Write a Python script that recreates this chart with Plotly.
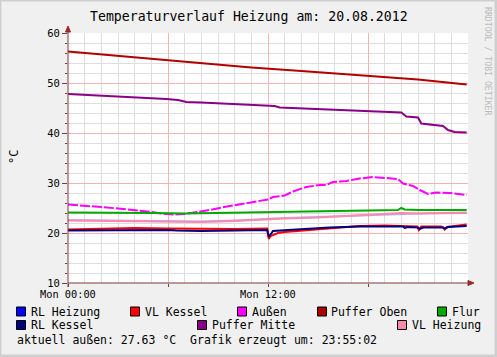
import plotly.graph_objects as go

# ---------------- data (hours since Mon 00:00, °C) ----------------
rl_heizung_h = [0, 3, 6, 8, 10, 11.5, 13, 15, 17.5, 19.8, 20.0, 21, 23.92]
rl_heizung_v = [22.6, 22.5, 22.4, 22.3, 22.5, 22.8, 23.0, 23.2, 23.5, 23.8, 23.9, 23.9, 24.0]

vl_kessel_h = [0, 2, 4, 6, 8, 10, 11.95, 12.05, 12.15, 12.6, 13, 14, 15, 16, 17.5, 19, 20.5, 20.95, 21.05, 21.2, 22.4, 22.5, 22.6, 22.75, 23.92]
vl_kessel_v = [20.7, 20.9, 21.0, 20.9, 20.8, 20.8, 20.9, 18.8, 19.4, 20.0, 20.2, 20.5, 20.8, 21.0, 21.4, 21.5, 21.4, 21.3, 20.6, 21.3, 21.3, 21.1, 20.7, 21.2, 21.7]

aussen_h = [0, 1, 2, 3, 4, 5, 5.6, 6.3, 7.0, 7.6, 8.5, 9.7, 10.7, 11.5, 12.0, 12.3, 13.0, 13.5, 14.3, 15.1, 15.5, 15.9, 16.7, 17.5, 18.3, 19.1, 19.8, 20.1, 20.7, 21.1, 21.6, 22.1, 22.9, 23.92]
aussen_v = [25.7, 25.5, 25.2, 24.9, 24.6, 24.2, 23.9, 23.7, 23.8, 24.1, 24.6, 25.4, 25.9, 26.3, 26.7, 27.2, 27.5, 28.3, 29.2, 29.6, 29.6, 30.2, 30.4, 30.9, 31.2, 31.0, 30.8, 29.9, 29.4, 28.6, 27.8, 28.1, 28.0, 27.6]

puffer_oben_h = [0, 3, 6, 9, 11, 14, 18, 21, 23.92]
puffer_oben_v = [56.3, 55.4, 54.5, 53.7, 53.1, 52.4, 51.5, 50.7, 49.7]

flur_h = [0, 3, 5, 7, 9, 12, 14.5, 17.5, 19.8, 20.0, 20.2, 21, 23.92]
flur_v = [24.1, 24.1, 24.0, 23.9, 24.0, 24.1, 24.3, 24.5, 24.6, 25.0, 24.7, 24.6, 24.6]

rl_kessel_h = [0, 3, 6, 6.5, 8, 10, 11.5, 11.95, 12.05, 12.3, 13.7, 15.7, 17.5, 19, 20.1, 20.2, 20.4, 21.0, 21.1, 21.3, 22.5, 22.6, 22.8, 23.92]
rl_kessel_v = [20.5, 20.6, 20.6, 20.5, 20.4, 20.5, 20.6, 20.6, 19.2, 20.4, 20.7, 21.1, 21.3, 21.3, 21.3, 21.0, 21.2, 21.1, 20.8, 21.1, 21.1, 20.9, 21.2, 21.4]

puffer_mitte_h = [0, 2, 4, 5.9, 6.6, 7.1, 8, 10.7, 12.4, 12.7, 14, 16, 18, 19.5, 20.0, 20.3, 21.0, 21.2, 22.5, 22.8, 23.2, 23.92]
puffer_mitte_v = [47.8, 47.5, 47.1, 46.8, 46.6, 46.2, 46.1, 45.6, 45.4, 45.1, 44.9, 44.7, 44.4, 44.2, 44.1, 43.3, 43.1, 41.9, 41.4, 40.6, 40.2, 40.1]

vl_heizung_h = [0, 3, 6, 8, 10, 11.5, 13, 15, 17.5, 19.8, 20.0, 21, 23.92]
vl_heizung_v = [22.5, 22.4, 22.2, 22.2, 22.4, 22.7, 22.9, 23.1, 23.5, 23.9, 24.0, 23.9, 24.1]

x_tick_vals = [0, 6, 12, 18]
x_label_vals = [0, 12]
x_label_text = ["Mon 00:00", "Mon 12:00"]
y_tick_vals = [10, 20, 30, 40, 50, 60]

title_text = "Temperaturverlauf Heizung am: 20.08.2012"
footer_text = "aktuell außen: 27.63 °C  Grafik erzeugt um: 23:55:02"
watermark = "RRDTOOL / TOBI OETIKER"

series = [
    ("RL Heizung", rl_heizung_h, rl_heizung_v, "#0000FF", "rgba(60,60,255,0.40)", None),
    ("VL Kessel", vl_kessel_h, vl_kessel_v, "#FF0000", "#FF0000", None),
    ("Außen", aussen_h, aussen_v, "#FF00FF", "#FF00FF", "10px,2px"),
    ("Puffer Oben", puffer_oben_h, puffer_oben_v, "#AA0000", "#B00000", None),
    ("Flur", flur_h, flur_v, "#00AA00", "#00AA00", None),
    ("RL Kessel", rl_kessel_h, rl_kessel_v, "#000080", "#000080", None),
    ("Puffer Mitte", puffer_mitte_h, puffer_mitte_v, "#880088", "#880088", None),
    ("VL Heizung", vl_heizung_h, vl_heizung_v, "#FF88AA", "#FF88AA", None),
]

# ---------------- geometry helpers ----------------
W, H = 497, 357
L, R, T, B = 68, 468, 33, 283
FONT = "DejaVu Sans Mono"


def px(x):
    return (x - L) / (R - L)


def py(y):
    return (B - y) / (B - T)


fig = go.Figure()
for name, hx, vy, _, lc, dash in series:
    fig.add_trace(go.Scatter(
        x=hx, y=vy, mode="lines", name=name, showlegend=False,
        line=dict(color=lc, width=2, dash=dash, shape="linear"),
        hoverinfo="skip",
    ))

AXIS = "#7A3B3B"
ARROW = "#9A2A2A"
shapes = []
annotations = []

# axis lines with arrows
shapes.append(dict(type="line", xref="paper", yref="paper", x0=px(68), x1=px(470), y0=py(283), y1=py(283),
                   line=dict(color=AXIS, width=1)))
shapes.append(dict(type="line", xref="paper", yref="paper", x0=px(68), x1=px(68), y0=py(287), y1=py(29),
                   line=dict(color=AXIS, width=1)))
shapes.append(dict(type="path", xref="paper", yref="paper",
                   path=f"M {px(468)},{py(280.5)} L {px(474)},{py(283)} L {px(468)},{py(285.5)} Z",
                   fillcolor=ARROW, line=dict(color=ARROW, width=1)))
shapes.append(dict(type="path", xref="paper", yref="paper",
                   path=f"M {px(65.5)},{py(32)} L {px(68)},{py(26)} L {px(70.5)},{py(32)} Z",
                   fillcolor=ARROW, line=dict(color=ARROW, width=1)))

# outer frame
FRAME = "#CFCFCF"
shapes.append(dict(type="rect", xref="paper", yref="paper", x0=px(0), x1=px(497), y0=py(357), y1=py(354.5),
                   fillcolor=FRAME, line=dict(width=0), layer="above"))
shapes.append(dict(type="rect", xref="paper", yref="paper", x0=px(494.5), x1=px(497), y0=py(357), y1=py(0),
                   fillcolor=FRAME, line=dict(width=0), layer="above"))
shapes.append(dict(type="rect", xref="paper", yref="paper", x0=px(0), x1=px(1.5), y0=py(357), y1=py(0),
                   fillcolor=FRAME, line=dict(width=0), layer="above"))
shapes.append(dict(type="rect", xref="paper", yref="paper", x0=px(0), x1=px(497), y0=py(1.5), y1=py(0),
                   fillcolor=FRAME, line=dict(width=0), layer="above"))

# x tick labels
for v, t in zip(x_label_vals, x_label_text):
    annotations.append(dict(text=t, xref="x", yref="paper", x=v, y=py(294),
                            xanchor="center", yanchor="middle", showarrow=False,
                            font=dict(family=FONT, size=10.3, color="#000000")))

# legend
legend_pos = [
    (16.5, 311.5, 30), (130.5, 311.5, 144), (237.5, 311.5, 251), (317.5, 311.5, 330), (437.5, 311.5, 451),
    (16.5, 325, 30), (197.5, 325, 211), (397.5, 325, 411),
]
for (name, _, _, sq, _, _), (sx, sy, tx) in zip(series, legend_pos):
    shapes.append(dict(type="rect", xref="paper", yref="paper",
                       x0=px(sx), x1=px(sx + 9), y0=py(sy - 4.5), y1=py(sy + 4.5),
                       fillcolor=sq, line=dict(color="#000000", width=1)))
    annotations.append(dict(text=name, xref="paper", yref="paper", x=px(tx - 1), y=py(sy),
                            xanchor="left", yanchor="middle", showarrow=False,
                            font=dict(family=FONT, size=11.5, color="#000000")))

annotations.append(dict(text=footer_text, xref="paper", yref="paper", x=px(15), y=py(339.5),
                        xanchor="left", yanchor="middle", showarrow=False,
                        font=dict(family=FONT, size=11.5, color="#000000")))
annotations.append(dict(text=title_text, xref="paper", yref="paper", x=px(249), y=py(17),
                        xanchor="center", yanchor="middle", showarrow=False,
                        font=dict(family=FONT, size=13.2, color="#000000")))
annotations.append(dict(text=watermark, xref="paper", yref="paper", x=px(488), y=py(61),
                        xanchor="center", yanchor="middle", showarrow=False, textangle=90,
                        font=dict(family=FONT, size=8.2, color="#BBBBBB")))
annotations.append(dict(text="°C", xref="paper", yref="paper", x=px(14), y=py(157),
                        xanchor="center", yanchor="middle", showarrow=False, textangle=-90,
                        font=dict(family=FONT, size=12, color="#000000")))

fig.update_layout(
    width=W, height=H,
    margin=dict(l=L, r=W - R, t=T, b=H - B, pad=0),
    paper_bgcolor="#F0F0F0", plot_bgcolor="#FFFFFF",
    showlegend=False,
    shapes=shapes, annotations=annotations,
    font=dict(family=FONT, size=10.5, color="#000000"),
    xaxis=dict(range=[0, 24], tickmode="array", tickvals=x_tick_vals, ticktext=["", "", "", ""],
               showgrid=True, gridcolor="#F4B4B4", gridwidth=1, zeroline=False, showline=False,
               ticks="outside", ticklen=3, tickcolor=AXIS,
               minor=dict(tickmode="array", tickvals=list(range(1, 24)), showgrid=True,
                          gridcolor="#DEDEDE", gridwidth=1, ticks=""),
               fixedrange=True),
    yaxis=dict(range=[10, 60], tickmode="array", tickvals=y_tick_vals,
               showgrid=True, gridcolor="#F4B4B4", gridwidth=1, zeroline=False, showline=False,
               ticks="outside", ticklen=5, tickcolor=AXIS,
               tickfont=dict(family=FONT, size=10.5, color="#000000"),
               minor=dict(tickmode="array", tickvals=[v for v in range(12, 60, 2) if v % 10], showgrid=True,
                          gridcolor="#DEDEDE", gridwidth=1, ticks="outside", ticklen=2, tickcolor=AXIS),
               fixedrange=True),
)

fig.write_html("out.html", config={"displayModeBar": False},
               post_script="document.body.style.margin='0px';document.body.style.padding='0px';")
